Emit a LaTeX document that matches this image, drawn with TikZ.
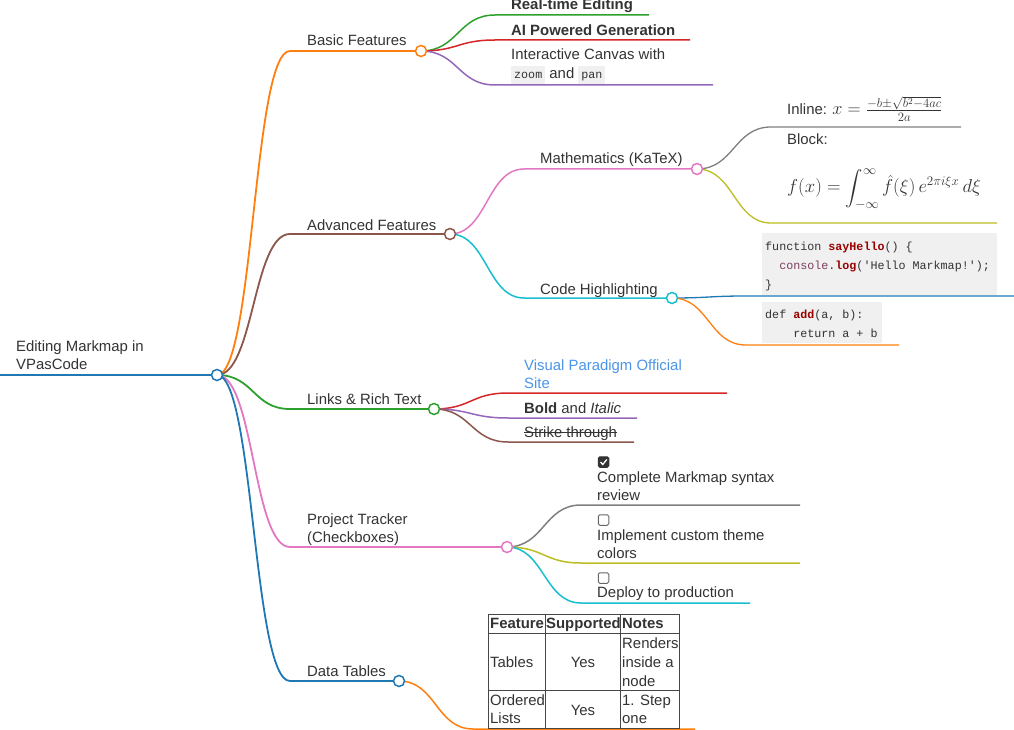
\RequirePackage{fix-cm}
\documentclass[tikz,border=0pt]{standalone}
\usepackage{exscale}
\usepackage{fontspec}
\setmainfont{Liberation Sans}
\setmonofont{Liberation Mono}
\usepackage{tikz}
\usetikzlibrary{positioning}

\definecolor{ink}{HTML}{333333}
\definecolor{mmblue}{HTML}{1F77B4}
\definecolor{mmorange}{HTML}{FF7F0E}
\definecolor{mmgreen}{HTML}{2CA02C}
\definecolor{mmred}{HTML}{D62728}
\definecolor{mmpurple}{HTML}{9467BD}
\definecolor{mmbrown}{HTML}{8C564B}
\definecolor{mmpink}{HTML}{E377C2}
\definecolor{mmgray}{HTML}{7F7F7F}
\definecolor{mmolive}{HTML}{BCBD22}
\definecolor{mmcyan}{HTML}{17BECF}
\definecolor{codebg}{HTML}{F0F0F0}
\definecolor{linkblue}{HTML}{4A94E8}
\definecolor{fnred}{HTML}{990000}
\definecolor{builtin}{HTML}{7D3E5E}

\newcommand{\icode}[1]{{\setlength{\fboxsep}{3pt}\colorbox{codebg}{\rule[-2pt]{0pt}{12pt}\fontsize{11.7}{14}\selectfont\ttfamily #1}}}
\newcommand{\mmlink}[3]{\draw[#1] (#2) .. controls +(37,0) and +(-37,0) .. (#3-s) -- (#3);}

\tikzset{
	lbl/.style={anchor=base west, inner sep=0pt, text=ink, align=left, font=\fontsize{14.9}{18}\selectfont},
	lblb/.style={lbl, font=\fontsize{14.9}{18}\selectfont\bfseries},
	cd/.style={anchor=base west, inner sep=0pt, text=ink, font=\fontsize{11.7}{14}\selectfont\ttfamily},
	dot/.style={circle, draw=#1, fill=white, line width=1.5pt, minimum size=11pt, inner sep=0pt},
	tick/.style={draw=#1, rounded corners=1.5pt, line width=1pt, minimum size=10.5pt, inner sep=0pt},
	d0/.style={line width=2.5pt},
	d1/.style={line width=1.8pt},
	d2/.style={line width=1.5pt},
	d3/.style={line width=1.3pt}
}

\begin{document}
\begin{tikzpicture}[x=1pt, y=-1pt]
	\useasboundingbox (0,0) rectangle (1014,730);

	% Anchor points %
	\coordinate (root-s) at (0,375);     \coordinate (root) at (217,375);
	\coordinate (basic-s) at (290,51);   \coordinate (basic) at (421,51);
	\coordinate (adv-s) at (290,234);    \coordinate (adv) at (450,234);
	\coordinate (links-s) at (290,409);  \coordinate (links) at (434,409);
	\coordinate (proj-s) at (290,547);   \coordinate (proj) at (507,547);
	\coordinate (data-s) at (290,681);   \coordinate (data) at (399,681);
	\coordinate (rt-s) at (495,15);      \coordinate (rt) at (649,15);
	\coordinate (ai-s) at (495,40);      \coordinate (ai) at (690,40);
	\coordinate (canvas-s) at (495,85);  \coordinate (canvas) at (713,85);
	\coordinate (math-s) at (524,169);   \coordinate (math) at (697,169);
	\coordinate (code-s) at (524,298);   \coordinate (code) at (672,298);
	\coordinate (inl-s) at (771,127);    \coordinate (inl) at (961,127);
	\coordinate (blk-s) at (771,223);    \coordinate (blk) at (997,223);
	\coordinate (js-s) at (746,296);     \coordinate (js) at (1014,296);
	\coordinate (py-s) at (746,345);     \coordinate (py) at (899,345);
	\coordinate (site-s) at (508,393);   \coordinate (site) at (727,393);
	\coordinate (bold-s) at (508,418);   \coordinate (bold) at (637,418);
	\coordinate (strike-s) at (508,442); \coordinate (strike) at (634,442);
	\coordinate (todo1-s) at (581,505);  \coordinate (todo1) at (800,505);
	\coordinate (todo2-s) at (581,563);  \coordinate (todo2) at (800,563);
	\coordinate (todo3-s) at (581,603);  \coordinate (todo3) at (750,603);
	\coordinate (tbl-s) at (473,729);    \coordinate (tbl) at (695,729);

	% Links %
	\draw[mmblue, d0] (root-s) -- (root);
	\mmlink{mmorange, d1}{root}{basic}
	\mmlink{mmbrown, d1}{root}{adv}
	\mmlink{mmgreen, d1}{root}{links}
	\mmlink{mmpink, d1}{root}{proj}
	\mmlink{mmblue, d1}{root}{data}
	\mmlink{mmgreen, d2}{basic}{rt}
	\mmlink{mmred, d2}{basic}{ai}
	\mmlink{mmpurple, d2}{basic}{canvas}
	\mmlink{mmpink, d2}{adv}{math}
	\mmlink{mmcyan, d2}{adv}{code}
	\mmlink{mmgray, d3}{math}{inl}
	\mmlink{mmolive, d3}{math}{blk}
	\mmlink{mmblue, d3}{code}{js}
	\mmlink{mmorange, d3}{code}{py}
	\mmlink{mmred, d2}{links}{site}
	\mmlink{mmpurple, d2}{links}{bold}
	\mmlink{mmbrown, d2}{links}{strike}
	\mmlink{mmgray, d2}{proj}{todo1}
	\mmlink{mmolive, d2}{proj}{todo2}
	\mmlink{mmcyan, d2}{proj}{todo3}
	\mmlink{mmorange, d2}{data}{tbl}

	% Circles %
	\foreach \n/\c in {root/mmblue, basic/mmorange, adv/mmbrown, links/mmgreen, proj/mmpink, data/mmblue, math/mmpink, code/mmcyan}
		\node[dot=\c] (\n-c) at (\n) {};

	% Root and first level %
	\node[lbl] (root-t) at (16,369) {Editing Markmap in\\VPasCode};
	\node[lbl] (basic-t) at (307,46) {Basic Features};
	\node[lbl] (adv-t) at (307,230) {Advanced Features};
	\node[lbl] (links-t) at (307,404) {Links \& Rich Text};
	\node[lbl] (proj-t) at (307,542) {Project Tracker\\(Checkboxes)};
	\node[lbl] (data-t) at (307,676) {Data Tables};

	% Basic Features %
	\node[lblb] (rt-t) at (511,10) {Real-time Editing};
	\node[lblb] (ai-t) at (511,36) {AI Powered Generation};
	\node[lbl] (canvas-t) at (511,79) {Interactive Canvas with\\[1pt]\icode{zoom} and \icode{pan}};

	% Advanced Features %
	\node[lbl] (math-t) at (540,164) {Mathematics (KaTeX)};
	\node[lbl] (code-t) at (540,294) {Code Highlighting};
	\node[lbl] (inl-t) at (787,115) {Inline: {\fontsize{18.2}{20}\selectfont$x=\frac{-b\pm\sqrt{b^2-4ac}}{2a}$}};
	\node[lbl] (blk-t) at (787,145) {Block:};
	\node[lbl, font=\fontsize{18.7}{22}\selectfont] (blk-f) at (787,193) {$\displaystyle f(x)=\int_{-\infty}^{\infty}\hat{f}(\xi)\,e^{2\pi i\xi x}\,d\xi$};
	\fill[codebg] (762,233) rectangle (997,295);
	\node[cd] (js-1) at (765,250) {function \textcolor{fnred}{\textbf{sayHello}}() \{};
	\node[cd] (js-2) at (765,269) {\phantom{xx}\textcolor{builtin}{console}.\textcolor{fnred}{\textbf{log}}('Hello Markmap!');};
	\node[cd] (js-3) at (765,288) {\}};
	\fill[codebg] (762,302) rectangle (882,343);
	\node[cd] (py-1) at (765,318) {def \textcolor{fnred}{\textbf{add}}(a, b):};
	\node[cd] (py-2) at (765,337) {\phantom{xxxx}return a + b};

	% Links & Rich Text %
	\node[lbl, text=linkblue] (site-t) at (524,388) {Visual Paradigm Official\\Site};
	\node[lbl] (bold-t) at (524,413) {\textbf{Bold} and \textit{Italic}};
	\node[lbl] (strike-t) at (524,437) {Strike through};
	\draw[ink, line width=0.9pt] ([yshift=4.5pt]strike-t.base west) -- ([yshift=4.5pt]strike-t.base east);

	% Project Tracker %
	\node[tick=ink, fill=ink] (todo1-b) at (603.5,462) {};
	\draw[white, line width=1.3pt] (600.5,462) -- (602.8,464.5) -- (606.8,459.5);
	\node[lbl] (todo1-t) at (597,500) {Complete Markmap syntax\\review};
	\node[tick=ink!75] (todo2-b) at (603.5,520) {};
	\node[lbl] (todo2-t) at (597,558) {Implement custom theme\\colors};
	\node[tick=ink!75] (todo3-b) at (603.5,578) {};
	\node[lbl] (todo3-t) at (597,597) {Deploy to production};

	% Table %
	\draw[ink!90, line width=1pt] (488,614) rectangle (679,728);
	\draw[ink!90, line width=1pt] (488,633) -- (679,633) (488,690) -- (679,690) (545,614) -- (545,728) (620,614) -- (620,728);
	\node[lblb] (th-1) at (490,628) {Feature};
	\node[lblb] (th-2) at (546,628) {Supported};
	\node[lblb] (th-3) at (622,628) {Notes};
	\node[lbl] (r1-1) at (490,667) {Tables};
	\node[lbl, anchor=base] (r1-2) at (583,667) {Yes};
	\node[lbl, font=\fontsize{14.9}{19}\selectfont] (r1-3) at (622,686) {Renders\\inside a\\node};
	\node[lbl] (r2-1) at (490,723) {Ordered\\Lists};
	\node[lbl, anchor=base] (r2-2) at (583,715) {Yes};
	\node[lbl] (r2-3) at (622,723) {1. Step\\one};
\end{tikzpicture}
\end{document}
